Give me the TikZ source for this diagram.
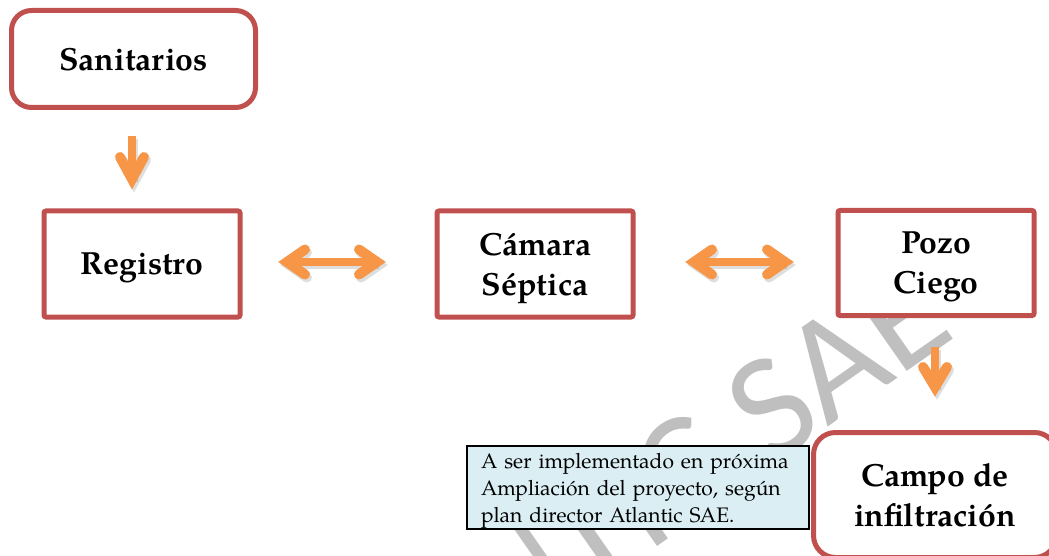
\documentclass[tikz,border=0pt]{standalone}
\usepackage{fontspec}
\setmainfont{TeX Gyre Pagella}
\newfontfamily\wmfont{Carlito}
\usetikzlibrary{calc}
\definecolor{boxred}{HTML}{C0504D}
\definecolor{arrorange}{HTML}{F79646}
\definecolor{notefill}{HTML}{DAEEF3}
\begin{document}
\begin{tikzpicture}[x=1pt,y=-1pt,
  redbox/.style={draw=boxred, line width=5pt, fill=white, align=center,
    font=\fontsize{32}{40}\selectfont\bfseries, inner sep=0pt, text depth=0pt},
  roundbox/.style={redbox, rounded corners=20pt},
  sqbox/.style={redbox, rounded corners=2pt, minimum width=196pt, minimum height=106pt},
  note/.style={draw=black, line width=2.5pt, fill=notefill, align=left,
    font=\fontsize{21}{27}\selectfont, inner xsep=14pt, inner ysep=0pt,
    text width=314pt, minimum height=83pt},
  shaft/.style={line width=8.5pt, draw=arrorange},
  head/.style={line width=10pt, draw=arrorange, line cap=round, line join=miter},
  shadowed/.style={draw=black!70, opacity=0.18, transform canvas={shift={(2,3)}}},
  watermark/.style={font=\wmfont\fontsize{150}{150}\selectfont, text=black!25,
    rotate=35, anchor=base west, inner sep=0pt}
]
\useasboundingbox (0,0) rectangle (1049,556);
\clip (0,0) rectangle (1049,556);
\fill[white] (0,0) rectangle (1049,556);

% watermark
\node[watermark] (wm) at (264,822) {ATLANTIC SAE};

% boxes
\node[roundbox, minimum width=244pt, minimum height=97pt] (san) at (133.5,59) {Sanitarios};
\node[sqbox] (reg) at (142,264) {Registro};
\node[sqbox] (cam) at (535,264) {Cámara\\Séptica};
\node[sqbox, minimum height=105pt] (poz) at (936,263) {Pozo\\Ciego};
\node[roundbox, rounded corners=22pt, minimum width=243pt, minimum height=125pt] (cin) at (935,495) {Campo de\\infiltración};
\node[note] (nota) at (638,487.5) {\rule{0pt}{21pt}A ser implementado en próxima Ampliación del proyecto, según plan director Atlantic SAE.};

% arrow coordinates
\coordinate (a1s) at (132,136);  \coordinate (a1e) at (132,179);
\coordinate (a2s) at (287,262);  \coordinate (a2e) at (377,262);
\coordinate (a3s) at (694,262);  \coordinate (a3e) at (785,262);
\coordinate (a4s) at (935,347);  \coordinate (a4e) at (935,387);

% shadows
\begin{scope}[shadowed]
  \draw[line width=8.5pt] (a1s) -- (a1e);
  \draw[line width=10pt, line cap=round] ($(a1e)+(-12,-22)$) -- (a1e) -- ($(a1e)+(12,-22)$);
  \draw[line width=8.5pt] (a2s) -- (a2e);
  \draw[line width=10pt, line cap=round] ($(a2s)+(18,-12.5)$) -- (a2s) -- ($(a2s)+(18,12.5)$);
  \draw[line width=10pt, line cap=round] ($(a2e)+(-18,-12.5)$) -- (a2e) -- ($(a2e)+(-18,12.5)$);
  \draw[line width=8.5pt] (a3s) -- (a3e);
  \draw[line width=10pt, line cap=round] ($(a3s)+(18,-12.5)$) -- (a3s) -- ($(a3s)+(18,12.5)$);
  \draw[line width=10pt, line cap=round] ($(a3e)+(-18,-12.5)$) -- (a3e) -- ($(a3e)+(-18,12.5)$);
  \draw[line width=8.5pt] (a4s) -- (a4e);
  \draw[line width=10pt, line cap=round] ($(a4e)+(-12,-20)$) -- (a4e) -- ($(a4e)+(12,-20)$);
\end{scope}

% arrows
\draw[shaft] (a1s) -- (a1e);
\draw[head] ($(a1e)+(-12,-22)$) -- (a1e) -- ($(a1e)+(12,-22)$);
\draw[shaft] (a2s) -- (a2e);
\draw[head] ($(a2s)+(18,-12.5)$) -- (a2s) -- ($(a2s)+(18,12.5)$);
\draw[head] ($(a2e)+(-18,-12.5)$) -- (a2e) -- ($(a2e)+(-18,12.5)$);
\draw[shaft] (a3s) -- (a3e);
\draw[head] ($(a3s)+(18,-12.5)$) -- (a3s) -- ($(a3s)+(18,12.5)$);
\draw[head] ($(a3e)+(-18,-12.5)$) -- (a3e) -- ($(a3e)+(-18,12.5)$);
\draw[shaft] (a4s) -- (a4e);
\draw[head] ($(a4e)+(-12,-20)$) -- (a4e) -- ($(a4e)+(12,-20)$);
\end{tikzpicture}
\end{document}
